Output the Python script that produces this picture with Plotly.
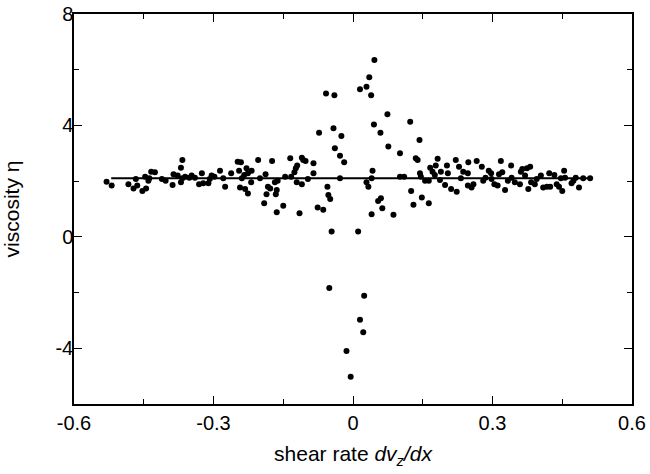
import plotly.graph_objects as go

shear_rate = [
    -0.530, -0.519, -0.483, -0.472, -0.467, -0.464, -0.453, -0.447, -0.445, -0.440,
    -0.438, -0.434, -0.426, -0.411, -0.403, -0.388, -0.386, -0.377, -0.370, -0.367,
    -0.370, -0.367, -0.361, -0.352, -0.347, -0.340, -0.331, -0.325, -0.322, -0.311,
    -0.308, -0.304, -0.298, -0.286, -0.279, -0.275, -0.262, -0.248, -0.241, -0.245,
    -0.239, -0.234, -0.229, -0.226, -0.218, -0.219, -0.243, -0.232, -0.226, -0.204,
    -0.200, -0.188, -0.183, -0.178, -0.174, -0.168, -0.162, -0.164, -0.186, -0.166,
    -0.191, -0.150, -0.164, -0.135, -0.146, -0.133, -0.126, -0.123, -0.120, -0.121,
    -0.110, -0.110, -0.107, -0.102, -0.097, -0.115, -0.085, -0.085, -0.076, -0.064,
    -0.055, -0.053, -0.049, -0.039, -0.028, -0.019, -0.028,
    0.076, 0.101, 0.135, 0.139, 0.042, 0.040, 0.029, 0.033, 0.101, 0.110,
    0.060, 0.054, 0.063, 0.040, 0.087, 0.125, 0.130, 0.148, 0.163, 0.144,
    0.146, 0.155, 0.163, 0.166, 0.171, 0.176, 0.178, 0.182, 0.189, 0.187,
    0.198, 0.204, 0.202, 0.211, 0.223, 0.221, 0.228, 0.232, 0.237, 0.247,
    0.248, 0.247, 0.255, 0.259, 0.266, 0.277, 0.280, 0.285, 0.292, 0.297,
    0.298, 0.304, 0.311, 0.314, 0.318, 0.321, 0.327, 0.333, 0.340, 0.341,
    0.348, 0.359, 0.361, 0.364, 0.370, 0.374, 0.377, 0.381, 0.383, 0.391,
    0.395, 0.404, 0.409, 0.417, 0.422, 0.424, 0.433, 0.438, 0.443, 0.447,
    0.450, 0.454, 0.456, 0.470, 0.474, 0.479, 0.486, 0.495, 0.510,
    0.046, 0.035, 0.029, 0.015, 0.039, -0.058, -0.040, 0.074, 0.123, 0.045,
    -0.042, -0.073, -0.025, 0.059, 0.143, -0.046, 0.011, -0.051, 0.024, 0.015,
    0.022, -0.014, -0.005,
]

viscosity = [
    1.98, 1.84, 1.89, 1.74, 2.08, 1.84, 1.65, 2.16, 1.74, 2.01,
    2.10, 2.34, 2.32, 2.08, 2.01, 1.86, 2.25, 2.20, 2.48, 2.76,
    1.96, 2.10, 2.16, 2.12, 2.20, 2.12, 1.89, 2.28, 1.92, 1.92,
    2.08, 2.20, 2.16, 2.37, 2.10, 1.80, 2.28, 2.70, 2.68, 2.37,
    2.10, 2.22, 2.46, 2.28, 2.37, 1.96, 1.77, 1.72, 1.56, 2.76,
    2.10, 2.25, 1.80, 1.74, 2.72, 1.96, 2.01, 1.68, 1.53, 1.53,
    1.21, 1.12, 0.88, 2.82, 2.16, 2.16, 2.32, 2.46, 2.56, 1.96,
    1.89, 2.84, 2.76, 2.72, 2.08, 0.85, 2.64, 2.28, 1.05, 0.97,
    1.80, 1.50, 1.36, 3.18, 2.91, 2.68, 2.10,
    3.24, 3.00, 2.82, 2.76, 2.37, 2.10, 1.96, 1.80, 2.16, 2.16,
    1.39, 1.29, 1.03, 0.81, 0.79, 1.65, 1.15, 1.41, 1.21, 2.28,
    2.16, 2.01, 2.01, 2.48, 2.34, 2.22, 2.56, 2.80, 2.34, 2.04,
    1.86, 2.28, 2.56, 1.72, 1.62, 2.76, 2.52, 2.10, 2.34, 2.28,
    2.68, 1.84, 1.77, 1.89, 2.72, 2.52, 2.01, 2.12, 2.37, 2.28,
    2.08, 1.89, 1.84, 2.25, 2.72, 2.32, 1.68, 2.01, 2.56, 2.12,
    1.96, 1.89, 2.34, 2.44, 2.20, 2.46, 1.72, 2.52, 1.96, 1.89,
    2.08, 2.20, 1.77, 1.80, 2.28, 1.80, 2.22, 1.89, 1.80, 2.10,
    1.65, 2.37, 2.12, 1.92, 2.01, 2.12, 1.77, 2.10, 2.10,
    6.35, 5.73, 5.39, 5.30, 5.08, 5.15, 5.08, 4.40, 4.13, 4.03,
    3.90, 3.74, 3.62, 3.74, 3.48, 0.19, 0.19, -1.84, -2.11, -2.98,
    -3.42, -4.10, -5.02,
]

fit_x = [-0.52, 0.51]
fit_y = [2.10, 2.10]

x_ticks = [-0.6, -0.3, 0, 0.3, 0.6]
x_tick_text = ["-0.6", "-0.3", "0", "0.3", "0.6"]
y_ticks = [-4, 0, 4, 8]
y_tick_text = ["-4", "0", "4", "8"]

fig = go.Figure()
fig.add_trace(go.Scatter(
    x=fit_x, y=fit_y, mode="lines",
    line=dict(color="black", width=2), showlegend=False, hoverinfo="skip",
))
fig.add_trace(go.Scatter(
    x=shear_rate, y=viscosity, mode="markers",
    marker=dict(color="black", size=6, line=dict(width=0)), showlegend=False,
))

font_family = "Liberation Sans, Arial, Helvetica, sans-serif"

axis_common = dict(
    showgrid=False, zeroline=False, showline=True, linecolor="black", linewidth=1.5,
    mirror="ticks", ticks="inside", ticklen=8, tickwidth=1, tickcolor="black",
    tickfont=dict(family=font_family, size=20, color="black"),
    automargin=False,
)

fig.update_layout(
    width=650, height=474,
    margin=dict(l=74, r=18, t=14, b=70),
    paper_bgcolor="white", plot_bgcolor="white",
    font=dict(family=font_family, size=20, color="black"),
    xaxis=dict(
        range=[-0.6, 0.6], tickmode="array", tickvals=x_ticks, ticktext=x_tick_text,
        minor=dict(ticks="inside", ticklen=5, tickcolor="black", dtick=0.15, tick0=0),
        title=dict(text="shear rate <i>dv<sub>z</sub>/dx</i>", standoff=14,
                   font=dict(family=font_family, size=21)),
        **axis_common,
    ),
    yaxis=dict(
        range=[-6, 8], tickmode="array", tickvals=y_ticks, ticktext=y_tick_text,
        ticklabelstandoff=-5,
        minor=dict(ticks="inside", ticklen=5, tickcolor="black", dtick=2, tick0=0),
        title=dict(text="viscosity η", standoff=31,
                   font=dict(family=font_family, size=21)),
        **axis_common,
    ),
)

fig.write_html("out.html")
